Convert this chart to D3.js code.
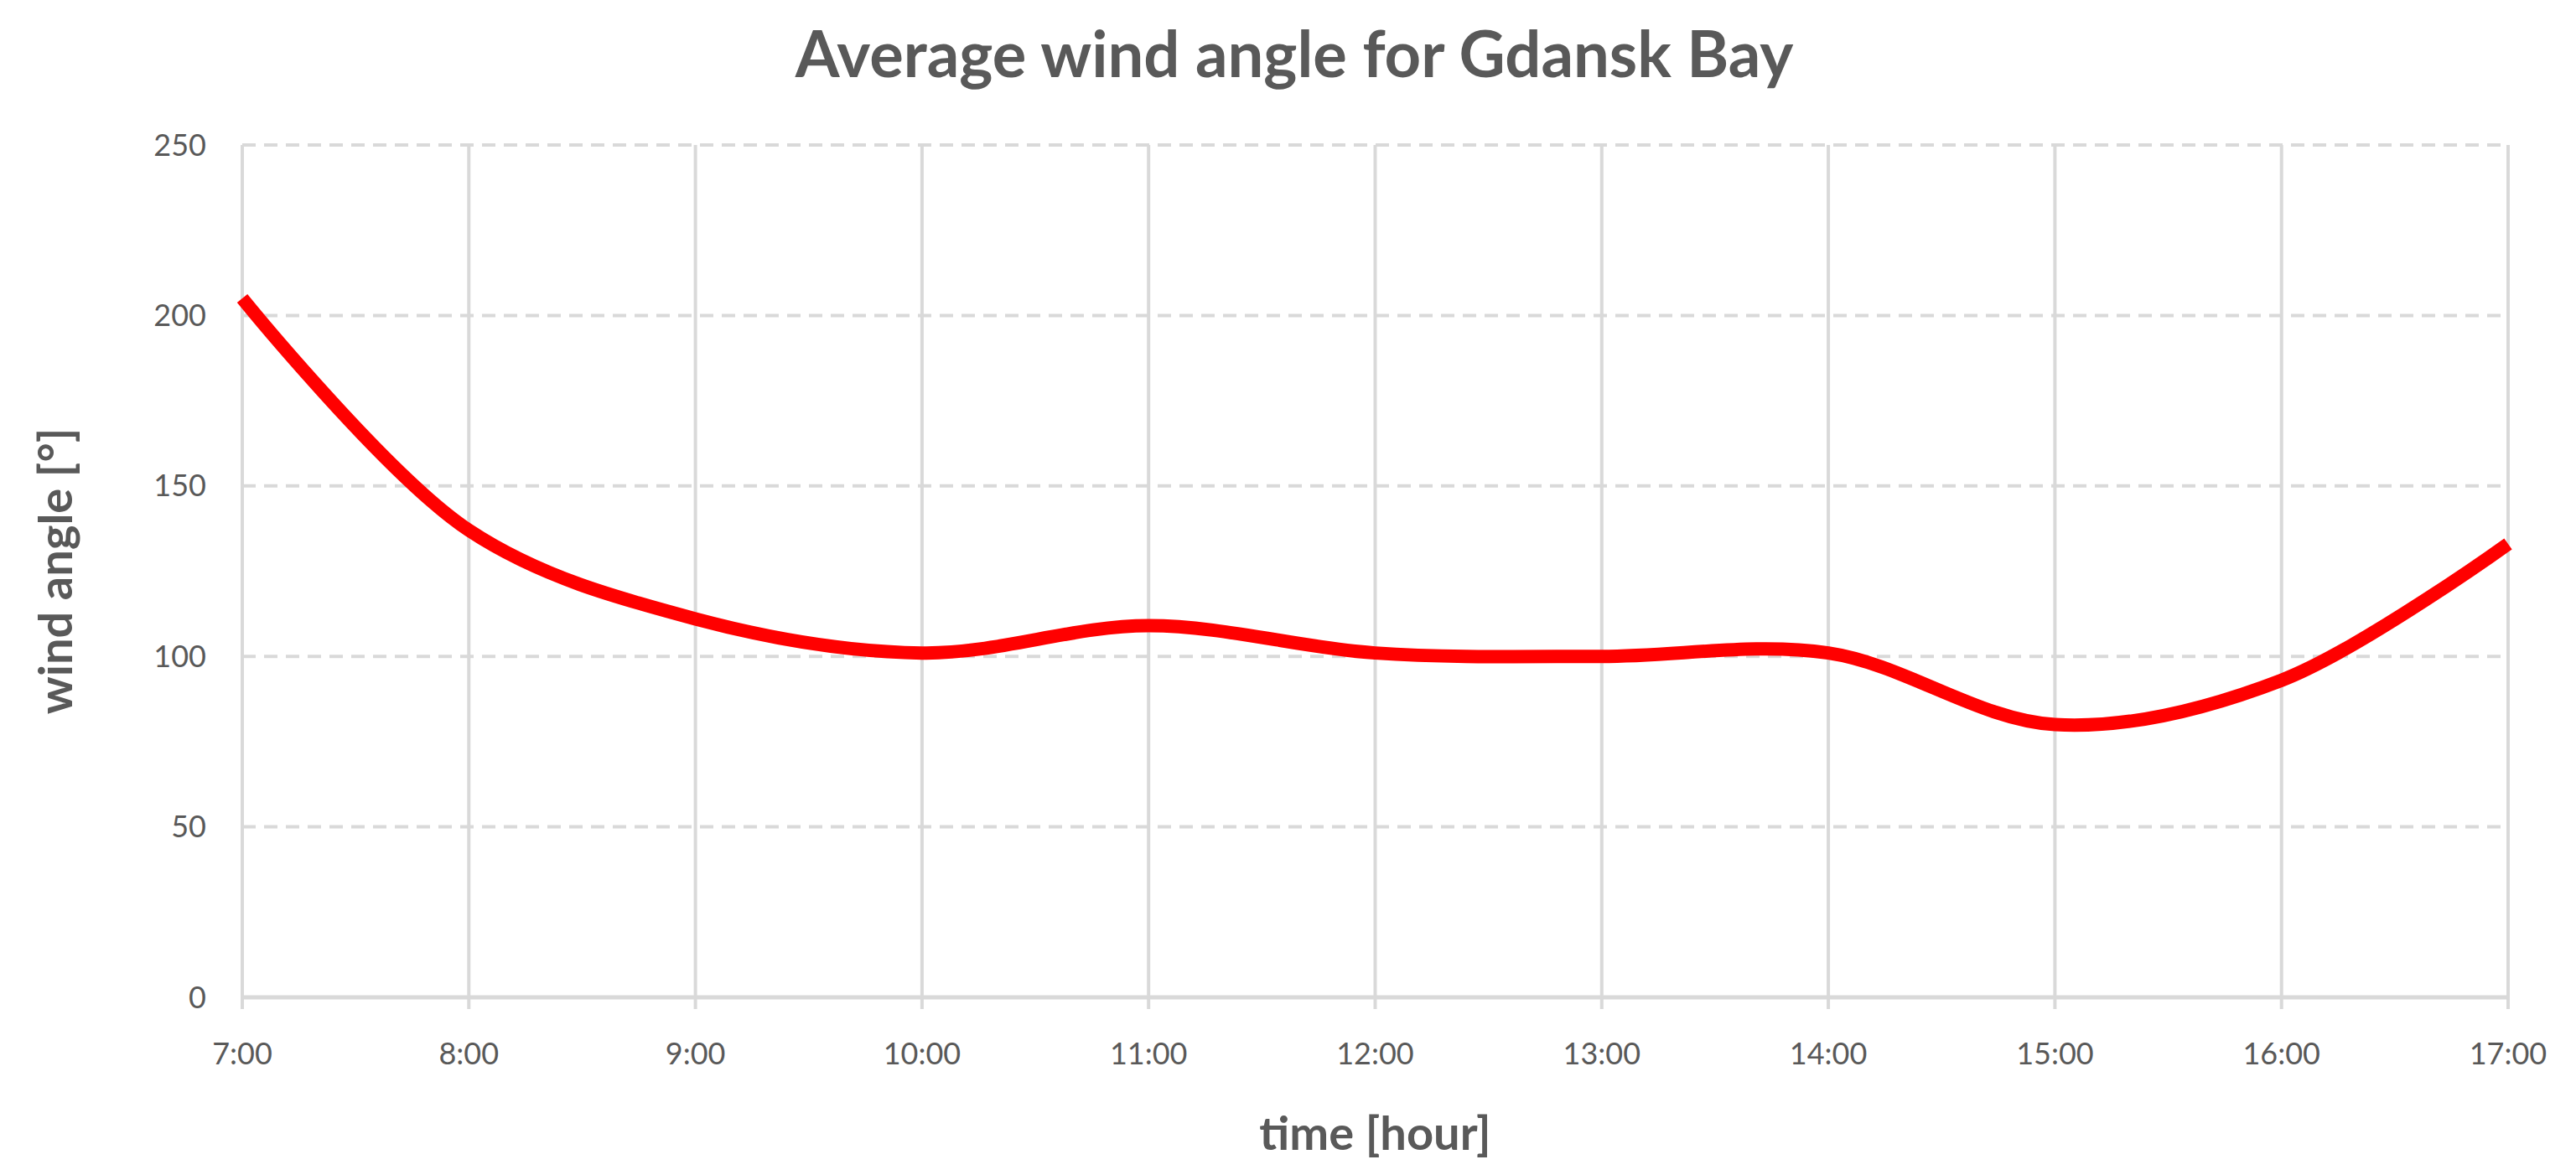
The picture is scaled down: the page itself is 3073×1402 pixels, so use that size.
<!DOCTYPE html>
<html>
<head>
<meta charset="utf-8">
<script src="https://cdn.jsdelivr.net/npm/d3@7"></script>
<style>
  body { margin: 0; background: #fff; }
  text { font-family: Lato, "Open Sans", sans-serif; fill: #595959; }
</style>
</head>
<body>
<svg id="chart" width="3073" height="1402"></svg>
<script>
var hours = ['7:00', '8:00', '9:00', '10:00', '11:00', '12:00', '13:00', '14:00', '15:00', '16:00', '17:00']
var windAngle = [205, 137, 111, 101, 109, 101, 100, 101, 80, 93, 133]
var yTicks = [0, 50, 100, 150, 200, 250]

var margin = {left: 289, right: 81, top: 173, bottom: 212}
var width = 3073, height = 1402
var svg = d3.select('#chart')

var x = d3.scalePoint().domain(hours).range([margin.left, width - margin.right])
var y = d3.scaleLinear().domain([0, 250]).range([height - margin.bottom, margin.top])

// horizontal dashed grid
svg.append('g')
  .selectAll('line').data(yTicks.slice(1)).join('line')
  .attr('x1', margin.left).attr('x2', width - margin.right)
  .attr('y1', d => y(d)).attr('y2', d => y(d))
  .attr('stroke', '#d9d9d9').attr('stroke-width', 4)
  .attr('stroke-dasharray', '16,10')

// vertical grid
svg.append('g')
  .selectAll('line').data(hours).join('line')
  .attr('x1', d => x(d)).attr('x2', d => x(d))
  .attr('y1', y(250)).attr('y2', y(0) + 14)
  .attr('stroke', '#d9d9d9').attr('stroke-width', 4)

// x axis line
svg.append('line')
  .attr('x1', margin.left).attr('x2', width - margin.right)
  .attr('y1', y(0)).attr('y2', y(0))
  .attr('stroke', '#d9d9d9').attr('stroke-width', 5)

// tick labels
svg.append('g')
  .selectAll('text').data(yTicks).join('text')
  .attr('x', 246).attr('y', d => y(d)).attr('dy', '0.35em')
  .attr('text-anchor', 'end').attr('font-size', 36)
  .text(d => d)

svg.append('g')
  .selectAll('text').data(hours).join('text')
  .attr('x', d => x(d)).attr('y', y(0) + 80)
  .attr('text-anchor', 'middle').attr('font-size', 36)
  .text(d => d)

// line
var line = d3.line()
  .x((d, i) => x(hours[i]))
  .y(d => y(d))
  .curve(d3.curveCatmullRom.alpha(0.5))

svg.append('path')
  .datum(windAngle)
  .attr('d', line)
  .attr('fill', 'none')
  .attr('stroke', '#ff0000')
  .attr('stroke-width', 16)
  .attr('stroke-linejoin', 'round')

// titles
svg.append('text')
  .attr('x', 1544).attr('y', 92)
  .attr('text-anchor', 'middle').attr('font-size', 76).attr('font-weight', 'bold')
  .text('Average wind angle for Gdansk Bay')

svg.append('text')
  .attr('x', (margin.left + width - margin.right) / 2).attr('y', 1372)
  .attr('text-anchor', 'middle').attr('font-size', 56).attr('font-weight', 'bold')
  .text('time [hour]')

svg.append('text')
  .attr('transform', 'translate(86,' + y(125) + ') rotate(-90)')
  .attr('text-anchor', 'middle').attr('font-size', 56).attr('font-weight', 'bold')
  .text('wind angle [°]')
</script>
</body>
</html>
